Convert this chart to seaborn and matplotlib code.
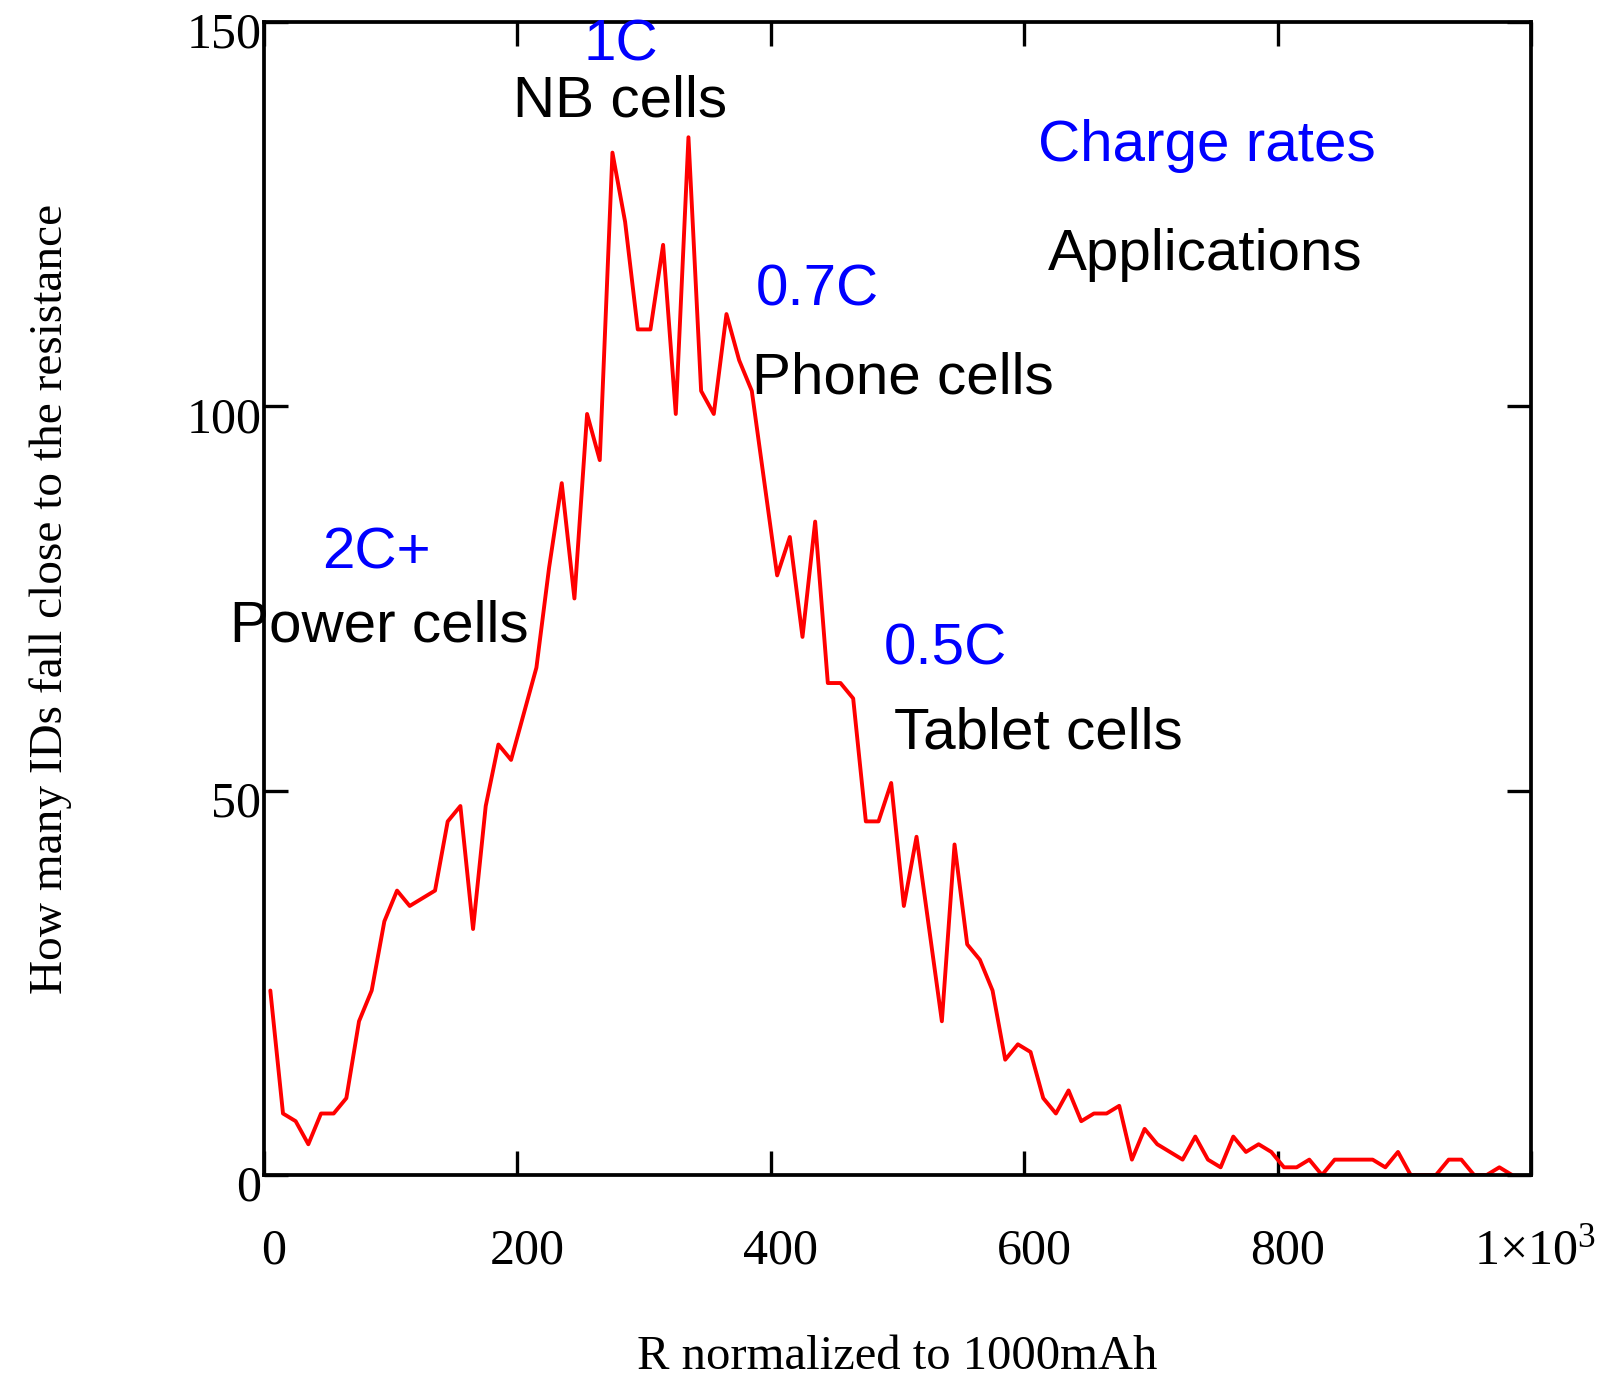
import matplotlib
matplotlib.use("Agg")
import matplotlib.pyplot as plt
import matplotlib.transforms as mtransforms
import pandas as pd
import seaborn as sns

# =============================================================================
# DATA
# =============================================================================
r_norm = [5, 15, 25, 35, 45, 55, 65, 75, 85, 95,
          105, 115, 125, 135, 145, 155, 165, 175, 185, 195,
          205, 215, 225, 235, 245, 255, 265, 275, 285, 295,
          305, 315, 325, 335, 345, 355, 365, 375, 385, 395,
          405, 415, 425, 435, 445, 455, 465, 475, 485, 495,
          505, 515, 525, 535, 545, 555, 565, 575, 585, 595,
          605, 615, 625, 635, 645, 655, 665, 675, 685, 695,
          705, 715, 725, 735, 745, 755, 765, 775, 785, 795,
          805, 815, 825, 835, 845, 855, 865, 875, 885, 895,
          905, 915, 925, 935, 945, 955, 965, 975, 985]
id_count = [24, 8, 7, 4, 8, 8, 10, 20, 24, 33,
            37, 35, 36, 37, 46, 48, 32, 48, 56, 54,
            60, 66, 79, 90, 75, 99, 93, 133, 124, 110,
            110, 121, 99, 135, 102, 99, 112, 106, 102, 90,
            78, 83, 70, 85, 64, 64, 62, 46, 46, 51,
            35, 44, 32, 20, 43, 30, 28, 24, 15, 17,
            16, 10, 8, 11, 7, 8, 8, 9, 2, 6,
            4, 3, 2, 5, 2, 1, 5, 3, 4, 3,
            1, 1, 2, 0, 2, 2, 2, 2, 1, 3,
            0, 0, 0, 2, 2, 0, 0, 1, 0]

x_ticks = [0, 200, 400, 600, 800, 1000]
x_tick_labels = ["0", "200", "400", "600", "800", "1×10$^{3}$"]
y_ticks = [0, 50, 100, 150]
y_tick_labels = ["0", "50", "100", "150"]

note_texts = ["1C", "NB cells", "Charge rates", "Applications", "0.7C", "Phone cells",
              "2C+", "Power cells", "0.5C", "Tablet cells"]
note_x = [282, 281, 744, 743, 437, 504, 89, 91, 538, 611]
note_y = [146.9, 139.7, 133.9, 119.7, 115.0, 103.6, 80.9, 71.4, 68.4, 57.4]
note_colors = ["blue", "black", "blue", "black", "blue", "black",
               "blue", "black", "blue", "black"]

df = pd.DataFrame({"R": r_norm, "count": id_count})

# =============================================================================
# STYLE
# =============================================================================
sns.set_style("white")
plt.rcParams["font.family"] = ["Liberation Serif", "DejaVu Serif"]
plt.rcParams["mathtext.fontset"] = "custom"
plt.rcParams["mathtext.rm"] = "Liberation Serif"
plt.rcParams["mathtext.it"] = "Liberation Serif"
plt.rcParams["text.color"] = "black"
plt.rcParams["axes.labelcolor"] = "black"

TICK_SIZE = 36
NOTE_SIZE = 42

fig = plt.figure(figsize=(15.98, 13.8), dpi=100)
ax = fig.add_axes([0.1652, 0.14855, 0.7929, 0.83555])

sns.lineplot(data=df, x="R", y="count", ax=ax, color="red", linewidth=2.8)

ax.set_xlim(0, 1000)
ax.set_ylim(0, 150)
ax.set_xticks(x_ticks)
ax.set_xticklabels(x_tick_labels)
ax.set_yticks(y_ticks)
ax.set_yticklabels(y_tick_labels)

for side in ["left", "right", "top", "bottom"]:
    ax.spines[side].set_visible(True)
    ax.spines[side].set_color("black")
    ax.spines[side].set_linewidth(2.7)

ax.tick_params(axis="both", direction="in", length=17, width=2.4, color="black",
               bottom=True, left=True, top=True, right=True,
               labelsize=TICK_SIZE, labelcolor="black")
ax.tick_params(axis="x", pad=38)
ax.tick_params(axis="y", pad=2)

# tick labels sit a bit off the ticks in the reference
shift_x = mtransforms.ScaledTranslation(0.10, 0, fig.dpi_scale_trans)
shift_last = mtransforms.ScaledTranslation(0.04, 0, fig.dpi_scale_trans)
xlabs = ax.get_xticklabels()
for lab in xlabs[:-1]:
    lab.set_transform(lab.get_transform() + shift_x)
xlabs[-1].set_transform(xlabs[-1].get_transform() + shift_last)
shift_y = mtransforms.ScaledTranslation(0, -0.08, fig.dpi_scale_trans)
for lab in ax.get_yticklabels():
    lab.set_transform(lab.get_transform() + shift_y)

ax.set_xlabel("R normalized to 1000mAh", fontsize=35, labelpad=44)
ax.set_ylabel("How many IDs fall close to the resistance", fontsize=34, labelpad=82)

for txt, x, y, c in zip(note_texts, note_x, note_y, note_colors):
    ax.text(x, y, txt, color=c, fontsize=NOTE_SIZE, ha="center", va="center",
            family=["Liberation Sans", "DejaVu Sans"], clip_on=False, zorder=5)

fig.savefig("out.png", dpi=100)
plt.close(fig)
